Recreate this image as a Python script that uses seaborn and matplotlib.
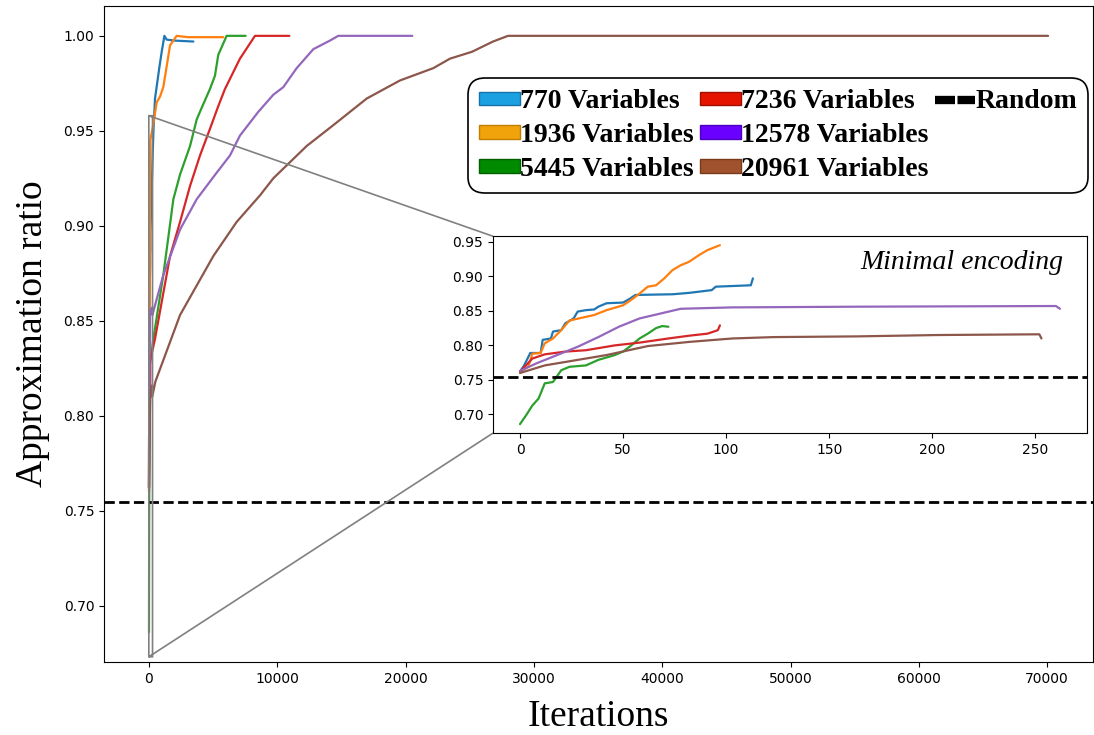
import numpy as np
import pandas as pd
import matplotlib
matplotlib.use("Agg")
import matplotlib.pyplot as plt
from matplotlib.patches import Patch
from matplotlib.lines import Line2D
import seaborn as sns

# ---------------- data ----------------
labels = ["770 Variables", "1936 Variables", "5445 Variables",
          "7236 Variables", "12578 Variables", "20961 Variables"]
line_colors = ["tab:blue", "tab:orange", "tab:green", "tab:red", "tab:purple", "tab:brown"]
legend_face = ["#1ba1e2", "#f0a30a", "#008a00", "#e51400", "#6a00ff", "#a0522d"]
legend_edge = ["#1572a8", "#c07d00", "#006000", "#a01000", "#5000c0", "#7a3a1a"]
random_ratio = 0.7547

# minimal encoding (inset) — first iterations
it_770_min = [0, 2, 5, 10, 11, 15, 16, 20, 22, 26, 28, 32, 36, 38, 42, 50, 53, 56, 74, 82, 93, 95, 112, 113]
ar_770_min = [0.762, 0.771, 0.789, 0.789, 0.808, 0.810, 0.820, 0.822, 0.832, 0.839, 0.849, 0.851,
              0.852, 0.856, 0.861, 0.862, 0.867, 0.873, 0.874, 0.876, 0.880, 0.885, 0.887, 0.897]
it_1936_min = [0, 4, 6, 10, 12, 16, 20, 24, 30, 36, 42, 50, 54, 58, 62, 66, 70, 74, 78, 82, 87, 91, 97]
ar_1936_min = [0.762, 0.769, 0.788, 0.789, 0.803, 0.810, 0.822, 0.836, 0.840, 0.844, 0.851, 0.858,
               0.866, 0.875, 0.885, 0.887, 0.897, 0.909, 0.916, 0.921, 0.931, 0.938, 0.945]
it_5445_min = [0, 3, 6, 9, 12, 16, 20, 24, 32, 38, 46, 50, 54, 58, 62, 66, 69, 72]
ar_5445_min = [0.686, 0.699, 0.713, 0.723, 0.745, 0.747, 0.764, 0.769, 0.771, 0.779, 0.786, 0.791,
               0.800, 0.810, 0.817, 0.825, 0.828, 0.827]
it_7236_min = [0, 6, 12, 22, 32, 46, 58, 72, 82, 91, 96, 97]
ar_7236_min = [0.762, 0.781, 0.787, 0.791, 0.793, 0.800, 0.804, 0.810, 0.814, 0.817, 0.822, 0.829]
it_12578_min = [0, 8, 18, 28, 38, 48, 58, 68, 78, 103, 163, 260, 262]
ar_12578_min = [0.763, 0.774, 0.786, 0.798, 0.812, 0.827, 0.839, 0.846, 0.853, 0.855, 0.856, 0.857, 0.853]
it_20961_min = [0, 12, 22, 42, 62, 82, 103, 123, 163, 203, 250, 252, 253]
ar_20961_min = [0.760, 0.771, 0.776, 0.786, 0.799, 0.805, 0.810, 0.812, 0.813, 0.815, 0.816, 0.816, 0.810]

# continuation of each run (main plot only)
it_770_rest = [340, 470, 800, 990, 1200, 1380, 2000, 3460]
ar_770_rest = [0.949, 0.967, 0.983, 0.9916, 1.000, 0.998, 0.9975, 0.997]
it_1936_rest = [300, 600, 860, 1115, 1380, 1640, 2160, 3000, 5790]
ar_1936_rest = [0.952, 0.965, 0.968, 0.973, 0.984, 0.995, 1.000, 0.9993, 0.9993]
it_5445_rest = [340, 1115, 1900, 2420, 3200, 3720, 4100, 4750, 5140, 5400, 6050, 7530]
ar_5445_rest = [0.8405, 0.874, 0.914, 0.927, 0.942, 0.956, 0.962, 0.972, 0.979, 0.990, 1.000, 1.000]
it_7236_rest = [470, 1640, 2420, 3200, 3975, 4750, 5400, 5920, 7090, 8260, 10940]
ar_7236_rest = [0.8405, 0.884, 0.902, 0.921, 0.937, 0.951, 0.963, 0.972, 0.988, 1.000, 1.000]
it_12578_rest = [1115, 2420, 3720, 5280, 6310, 7090, 8520, 9690, 10470, 11510, 12810, 14100, 14750, 20520]
ar_12578_rest = [0.874, 0.898, 0.914, 0.928, 0.937, 0.9475, 0.960, 0.969, 0.973, 0.983, 0.993, 0.9975, 1.000, 1.000]
it_20961_rest = [500, 2420, 5010, 6830, 8650, 9690, 12290, 14370, 16970, 19560, 22160, 23460, 25170, 26810, 27980, 70070]
ar_20961_rest = [0.818, 0.853, 0.884, 0.902, 0.916, 0.925, 0.942, 0.953, 0.967, 0.9765, 0.983, 0.988,
                 0.9916, 0.997, 1.000, 1.000]

min_its = [it_770_min, it_1936_min, it_5445_min, it_7236_min, it_12578_min, it_20961_min]
min_ars = [ar_770_min, ar_1936_min, ar_5445_min, ar_7236_min, ar_12578_min, ar_20961_min]
rest_its = [it_770_rest, it_1936_rest, it_5445_rest, it_7236_rest, it_12578_rest, it_20961_rest]
rest_ars = [ar_770_rest, ar_1936_rest, ar_5445_rest, ar_7236_rest, ar_12578_rest, ar_20961_rest]

# ---------------- figure ----------------
sns.set_style("ticks")
plt.rcParams["font.family"] = ["DejaVu Sans"]
plt.rcParams["axes.edgecolor"] = "black"
plt.rcParams["axes.labelcolor"] = "black"
plt.rcParams["text.color"] = "black"
plt.rcParams["xtick.color"] = "black"
plt.rcParams["ytick.color"] = "black"
plt.rcParams["xtick.labelsize"] = 10
plt.rcParams["ytick.labelsize"] = 10

fig = plt.figure(figsize=(10.94, 7.35), dpi=100)
ax = fig.add_axes([0.0951, 0.0993, 0.904, 0.8925])

for lab, col, mi, ma, ri, ra in zip(labels, line_colors, min_its, min_ars, rest_its, rest_ars):
    df = pd.DataFrame({"Iterations": list(mi) + list(ri), "ratio": list(ma) + list(ra)})
    sns.lineplot(data=df, x="Iterations", y="ratio", ax=ax, color=col, lw=1.6,
                 estimator=None, sort=False)
ax.axhline(random_ratio, color="black", ls="--", lw=2)

ax.set_yticks([0.70, 0.75, 0.80, 0.85, 0.90, 0.95, 1.00])
ax.set_xticks([0, 10000, 20000, 30000, 40000, 50000, 60000, 70000])
ax.set_xlabel("Iterations", family="Liberation Serif", fontsize=27, labelpad=10)
ax.set_ylabel("Approximation ratio", family="Liberation Serif", fontsize=27, labelpad=10)

# inset
axins = ax.inset_axes([0.3933, 0.349, 0.6006, 0.300])
for col, mi, ma in zip(line_colors, min_its, min_ars):
    df = pd.DataFrame({"it": mi, "ratio": ma})
    sns.lineplot(data=df, x="it", y="ratio", ax=axins, color=col, lw=1.6,
                 estimator=None, sort=False)
axins.axhline(random_ratio, color="black", ls="--", lw=2)
axins.set_xlabel("")
axins.set_ylabel("")
axins.set_yticks([0.70, 0.75, 0.80, 0.85, 0.90, 0.95])
axins.set_xticks([0, 50, 100, 150, 200, 250])
axins.text(0.96, 0.93, "Minimal encoding", transform=axins.transAxes, ha="right", va="top",
           family="Liberation Serif", style="italic", fontsize=20)
ind = ax.indicate_inset_zoom(axins, edgecolor="gray", alpha=1, lw=1.2)
conns = ind.connectors
for k, c in enumerate(conns):
    c.set_visible(k in (0, 1))

# legend (3 columns: 3 + 3 + 1)
handles = [Patch(facecolor=f, edgecolor=e, lw=1) for f, e in zip(legend_face, legend_edge)]
handles.append(Line2D([0], [0], color="black", lw=6, ls=(0, (2.4, 0.3)), solid_capstyle="butt",
                      dash_capstyle="butt"))
blank = Patch(facecolor="none", edgecolor="none")
handles += [blank, blank]
leg_labels = labels + ["Random", " ", " "]
leg = ax.legend(handles, leg_labels, ncol=3, loc="upper right", bbox_to_anchor=(0.995, 0.890),
                borderaxespad=0, prop={"family": "Liberation Serif", "weight": "bold", "size": 20},
                handlelength=1.45, handleheight=0.38, handletextpad=0.0, columnspacing=0.25,
                labelspacing=0.32, frameon=True, fancybox=True, framealpha=1, borderpad=0.4)
leg.get_frame().set_edgecolor("black")
leg.get_frame().set_linewidth(1.2)
leg.get_frame().set_boxstyle("round", pad=0, rounding_size=0.6)

fig.savefig("out.png", dpi=100)
